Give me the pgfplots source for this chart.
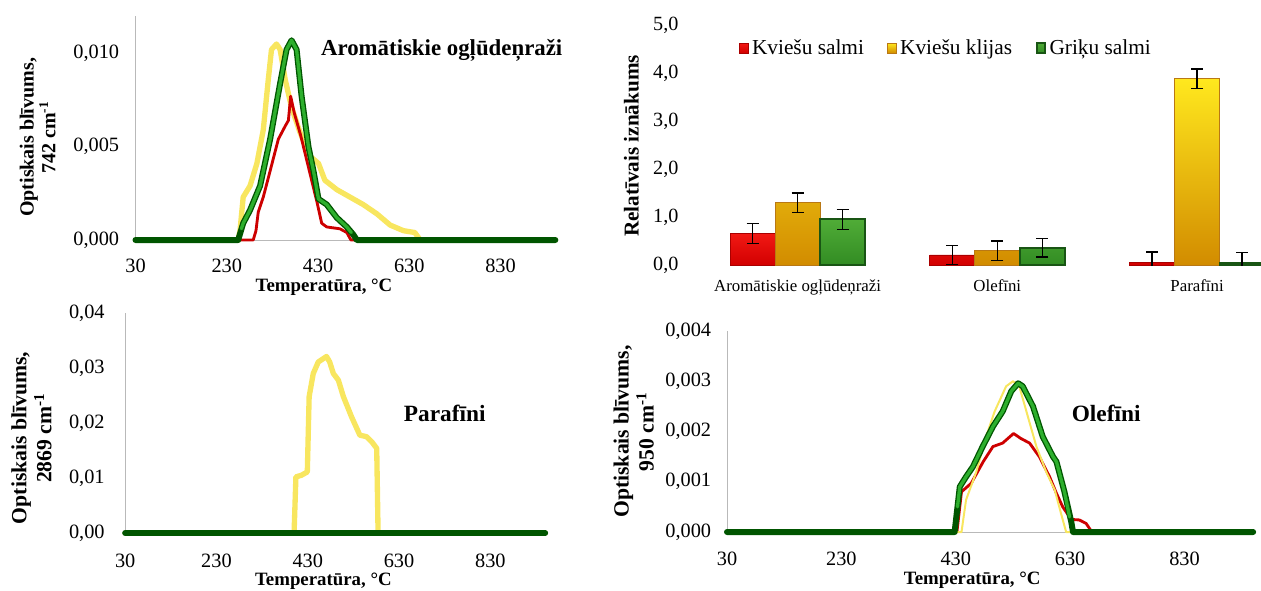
\documentclass[border=0pt]{standalone}
\usepackage{fontspec}
\setmainfont{Liberation Serif}
\usepackage{pgfplots}
\pgfplotsset{compat=1.18}
\definecolor{lnred}{RGB}{205,0,0}
\definecolor{lnyel}{RGB}{248,230,95}
\definecolor{lngrD}{RGB}{0,85,0}
\definecolor{lngrL}{RGB}{45,175,45}
\definecolor{axgray}{RGB}{185,185,185}
\definecolor{brRedT}{RGB}{242,25,20}
\definecolor{brRedB}{RGB}{210,0,0}
\definecolor{brRedD}{RGB}{170,0,0}
\definecolor{brYelT}{RGB}{255,232,30}
\definecolor{brYelM}{RGB}{255,212,0}
\definecolor{brYelB}{RGB}{210,140,0}
\definecolor{brYelD}{RGB}{185,120,20}
\definecolor{brGrnT}{RGB}{80,172,55}
\definecolor{brGrnB}{RGB}{50,140,35}
\definecolor{brGrnD}{RGB}{25,85,20}
\pgfplotsset{
  lineaxis/.style={
    scale only axis, anchor=south west,
    xmin=30, xmax=950, ymin=0,
    axis lines=left,
    axis line style={draw=axgray, line width=0.6pt, -},
    major tick length=0pt,
    xtick={30,230,430,630,830},
    clip=false,
    scaled y ticks=false,
    /pgf/number format/assume math mode=true,
    tick label style={font=\fontsize{12.2}{14}\selectfont},
    xlabel={Temperatūra, °C},
    xlabel style={font=\bfseries\fontsize{11.3}{13}\selectfont, anchor=center},
    ylabel style={anchor=center, align=center},
  },
  yline/.style={color=lnyel, line width=3.2pt, line join=round, line cap=round},
  rline/.style={color=lnred, line width=1.7pt, line join=round},
  gline/.style={color=lngrD, line width=3.6pt, line join=round, line cap=round},
  gin/.style={color=lngrL, line width=2pt, line join=round, line cap=round},
}
\begin{document}
\begin{tikzpicture}
\useasboundingbox (0pt,0pt) rectangle (756.6pt,354pt);

% ---------- Panel 1: aromatics ----------
\begin{axis}[lineaxis,
  at={(81.3pt,210pt)}, width=251.9pt, height=134.4pt,
  ymax=0.012, ytick={0,0.005,0.01},
  yticklabel style={/pgf/number format/.cd, fixed, fixed zerofill, precision=3, use comma, /tikz/.cd, xshift=-6.3pt},
  xticklabel style={yshift=-8pt},
  ylabel={Optiskais blīvums,\\742 cm\textsuperscript{-1}},
  ylabel style={at={(axis description cs:-0.233,0.458)}, font=\bfseries\fontsize{12}{13}\selectfont},
  xlabel style={at={(axis description cs:0.449,-0.21)}},
]
\addplot[yline] coordinates {(30,0)(255,0)(259,0.0005)(266,0.0023)(281,0.0029)(296,0.0041)(310,0.0059)(321,0.0086)(328,0.0102)(339,0.0105)(347,0.0102)(358,0.0086)(372,0.0071)(390,0.0058)(412,0.0045)(431,0.0041)(445,0.0032)(471,0.0027)(500,0.0023)(529,0.0019)(559,0.0014)(588,0.0008)(617,0.0005)(642,0.0004)(654,0)(950,0)};
\addplot[rline] coordinates {(30,0)(288,0)(294,0.0005)(299,0.0015)(310,0.0023)(325,0.0037)(343,0.0054)(358,0.0061)(365,0.0064)(370,0.0077)(378,0.0068)(392,0.0056)(408,0.0040)(428,0.0020)(438,0.0009)(449,0.0007)(478,0.0006)(493,0.0004)(502,0)(950,0)};
\addplot[gline] coordinates {(30,0)(255,0)(266,0.0009)(281,0.0016)(303,0.0029)(325,0.0054)(347,0.0084)(361,0.0102)(372,0.0107)(383,0.0102)(394,0.0077)(409,0.0050)(420,0.0037)(431,0.0022)(449,0.0019)(471,0.0012)(493,0.0007)(507,0.0003)(515,0)(950,0)};
\addplot[gin] coordinates {(262,0.0006)(266,0.0009)(281,0.0016)(303,0.0029)(325,0.0054)(347,0.0084)(361,0.0102)(372,0.0107)(383,0.0102)(394,0.0077)(409,0.0050)(420,0.0037)(431,0.0022)(449,0.0019)(471,0.0012)(493,0.0007)(503,0.0004)};
\node[font=\bfseries\fontsize{13.7}{16}\selectfont] at (axis cs:701,0.01018) {Aromātiskie ogļūdeņraži};
\end{axis}

% ---------- Panel 2: bars ----------
\begin{axis}[
  at={(418.6pt,195pt)}, anchor=south west, scale only axis,
  width=338pt, height=144pt,
  xmin=-0.5, xmax=2.32, ymin=0, ymax=5,
  ybar=0pt, bar width=27pt,
  axis line style={draw=none},
  major tick length=0pt,
  xtick={0,1,2}, xticklabels={Aromātiskie ogļūdeņraži, Olefīni, Parafīni},
  ytick={0,1,2,3,4,5},
  /pgf/number format/assume math mode=true,
  yticklabel style={/pgf/number format/.cd, fixed, fixed zerofill, precision=1, use comma, /tikz/.cd, xshift=-8pt, font=\fontsize{12.1}{14}\selectfont},
  xticklabel style={yshift=-5.5pt, font=\fontsize{10.1}{12}\selectfont},
  ylabel={Relatīvais iznākums},
  ylabel style={at={(axis description cs:-0.1175,0.496)}, anchor=center, font=\bfseries\fontsize{12.7}{14}\selectfont},
  legend columns=3,
  legend style={at={(0.442,0.904)}, anchor=center, draw=none, fill=none, font=\fontsize{12.8}{14}\selectfont, /tikz/every even column/.append style={column sep=12pt}},
  legend image code/.code={\draw[#1] (0pt,-3pt) rectangle (5.2pt,3pt);},
  error bars/y dir=both, error bars/y explicit,
  error bars/error mark=-,
  error bars/error bar style={black, line width=0.8pt},
  error bars/error mark options={draw=black, mark size=3.6pt, line width=0.8pt, rotate=90},
]
\addplot[draw=brRedD, line width=0.5pt, top color=brRedT, bottom color=brRedB] coordinates {(0,0.66) +- (0,0.21) (1,0.21) +- (0,0.2) (2,0.06) +- (0,0.21)};
\addplot[draw=brYelD, line width=0.5pt, top color=brYelT, middle color=brYelM, bottom color=brYelB] coordinates {(0,1.30) +- (0,0.2) (1,0.30) +- (0,0.2) (2,3.88) +- (0,0.2)};
\addplot[draw=brGrnD, line width=1.2pt, top color=brGrnT, bottom color=brGrnB] coordinates {(0,0.95) +- (0,0.21) (1,0.36) +- (0,0.19) (2,0.05) +- (0,0.21)};
\legend{Kviešu salmi, Kviešu klijas, Griķu salmi}
\end{axis}

% ---------- Panel 3: paraffins ----------
\begin{axis}[lineaxis,
  at={(75.1pt,34.2pt)}, width=252pt, height=132pt,
  ymax=0.04, ytick={0,0.01,0.02,0.03,0.04},
  yticklabel style={/pgf/number format/.cd, fixed, fixed zerofill, precision=2, use comma, /tikz/.cd, xshift=-8.8pt},
  xticklabel style={yshift=-9pt},
  ylabel={Optiskais blīvums,\\2869 cm\textsuperscript{-1}},
  ylabel style={at={(axis description cs:-0.223,0.432)}, font=\bfseries\fontsize{13}{15}\selectfont},
  xlabel style={at={(axis description cs:0.472,-0.218)}},
]
\addplot[rline] coordinates {(30,0)(950,0)};
\addplot[yline] coordinates {(30,0)(400,0)(404,0.0102)(416,0.0105)(429,0.0111)(433,0.0248)(442,0.029)(453,0.0311)(471,0.0321)(478,0.0311)(486,0.029)(497,0.0278)(508,0.0248)(526,0.0211)(544,0.0178)(559,0.0175)(570,0.0166)(581,0.0154)(584,0)(950,0)};
\addplot[gline] coordinates {(30,0)(950,0)};
\node[font=\bfseries\fontsize{14}{16}\selectfont] at (axis cs:730,0.0218) {Parafīni};
\end{axis}

% ---------- Panel 4: olefins ----------
\begin{axis}[lineaxis,
  at={(436.2pt,34.8pt)}, width=315.7pt, height=120.6pt,
  ymax=0.004, ytick={0,0.001,0.002,0.003,0.004},
  yticklabel style={/pgf/number format/.cd, fixed, fixed zerofill, precision=3, use comma, /tikz/.cd, xshift=-6pt},
  xticklabel style={yshift=-8.6pt},
  ylabel={Optiskais blīvums,\\950 cm\textsuperscript{-1}},
  ylabel style={at={(axis description cs:-0.1775,0.5)}, font=\bfseries\fontsize{13}{15}\selectfont},
  xlabel style={at={(axis description cs:0.466,-0.239)}},
]
\addplot[rline] coordinates {(30,0)(432,0)(440,0.0008)(457,0.00097)(478,0.0014)(495,0.0017)(512,0.00177)(531,0.00196)(544,0.00186)(559,0.00177)(576,0.0015)(594,0.0011)(606,0.00077)(617,0.0005)(632,0.00025)(646,0.00024)(658,0.00017)(668,0)(950,0)};
\addplot[color=lnyel, line width=1.2pt, line join=round] coordinates {(30,0)(440,0)(448,0.00064)(466,0.0012)(483,0.0019)(498,0.0024)(518,0.0029)(530,0.003)(541,0.0029)(556,0.0023)(571,0.0017)(588,0.0012)(603,0.00084)(614,0.00037)(623,0)(950,0)};
\addplot[gline] coordinates {(30,0)(428,0)(437,0.0009)(448,0.0011)(460,0.0013)(477,0.0017)(495,0.0021)(512,0.0024)(527,0.0028)(539,0.00296)(547,0.0029)(565,0.0025)(582,0.0019)(600,0.0015)(606,0.0014)(620,0.0008)(632,0.0002)(635,0)(950,0)};
\addplot[gin] coordinates {(433,0.0005)(437,0.0009)(448,0.0011)(460,0.0013)(477,0.0017)(495,0.0021)(512,0.0024)(527,0.0028)(539,0.00296)(547,0.0029)(565,0.0025)(582,0.0019)(600,0.0015)(606,0.0014)(620,0.0008)(629,0.0003)};
\node[font=\bfseries\fontsize{14}{16}\selectfont] at (axis cs:693,0.00237) {Olefīni};
\end{axis}
\end{tikzpicture}
\end{document}
